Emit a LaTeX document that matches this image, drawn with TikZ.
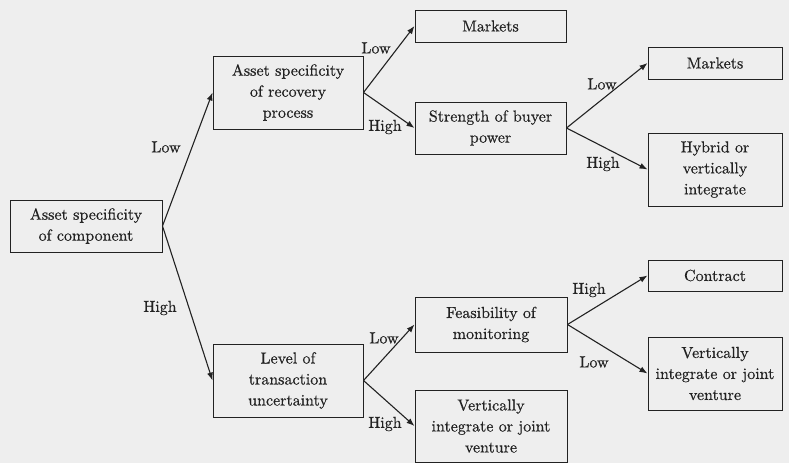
\documentclass[tikz,border=0pt]{standalone}
\usepackage{fontspec}
\newfontfamily\boxfont{lmroman10-regular.otf}[FakeBold=0.5]
\usetikzlibrary{arrows.meta}
\definecolor{paper}{HTML}{EEEEEE}
\definecolor{ink}{HTML}{222222}
\begin{document}
\begin{tikzpicture}[x=1pt,y=-1pt,
  every node/.style={font=\boxfont\fontsize{16}{21}\selectfont, text=ink},
  box/.style={draw=ink, line width=1pt, fill=paper, align=center, inner sep=0pt},
  branch/.style={draw=ink, line width=1.1pt, -{Latex[length=8pt,width=6pt]}},
  lbl/.style={inner sep=0pt}]
  \fill[paper] (0,0) rectangle (789,463);
  \useasboundingbox (0,0) rectangle (789,463);

  % decision boxes
  \node[box, minimum width=152, minimum height=52] (root) at (86,226) {Asset specificity\\of component};
  \node[box, minimum width=150, minimum height=73] (rec) at (288,92.5) {Asset specificity\\of recovery\\process};
  \node[box, minimum width=151, minimum height=32] (mkt1) at (490.5,26) {Markets};
  \node[box, minimum width=151, minimum height=52] (str) at (490.5,128) {Strength of buyer\\power};
  \node[box, minimum width=134, minimum height=32] (mkt2) at (715,63) {Markets};
  \node[box, minimum width=134, minimum height=73] (hyb) at (715,169.5) {Hybrid or\\vertically\\integrate};
  \node[box, minimum width=150, minimum height=73] (lev) at (288,380.5) {Level of\\transaction\\uncertainty};
  \node[box, minimum width=152, minimum height=55] (fea) at (491,324.5) {Feasibility of\\monitoring};
  \node[box, minimum width=152, minimum height=72] (vij1) at (491,426) {Vertically\\integrate or joint\\venture};
  \node[box, minimum width=134, minimum height=31] (con) at (715,275.5) {Contract};
  \node[box, minimum width=134, minimum height=73] (vij2) at (715,373.5) {Vertically\\integrate or joint\\venture};

  % branches
  \draw[branch] (root.east) -- (rec.west);
  \draw[branch] (root.east) -- (lev.west);
  \draw[branch] (rec.east) -- (mkt1.west);
  \draw[branch] (rec.east) -- (str.west);
  \draw[branch] (str.east) -- (mkt2.west);
  \draw[branch] (str.east) -- (hyb.west);
  \draw[branch] (lev.east) -- (fea.west);
  \draw[branch] (lev.east) -- (vij1.west);
  \draw[branch] (fea.east) -- (con.west);
  \draw[branch] (fea.east) -- (vij2.west);

  % branch labels
  \node[lbl] (l1) at (166,147) {Low};
  \node[lbl] (l2) at (160,308) {High};
  \node[lbl] (l3) at (376,48) {Low};
  \node[lbl] (l4) at (385,127) {High};
  \node[lbl] (l5) at (602,84) {Low};
  \node[lbl] (l6) at (603,164) {High};
  \node[lbl] (l7) at (384,338) {Low};
  \node[lbl] (l8) at (385,424) {High};
  \node[lbl] (l9) at (589,290) {High};
  \node[lbl] (l10) at (594,362) {Low};
\end{tikzpicture}
\end{document}
